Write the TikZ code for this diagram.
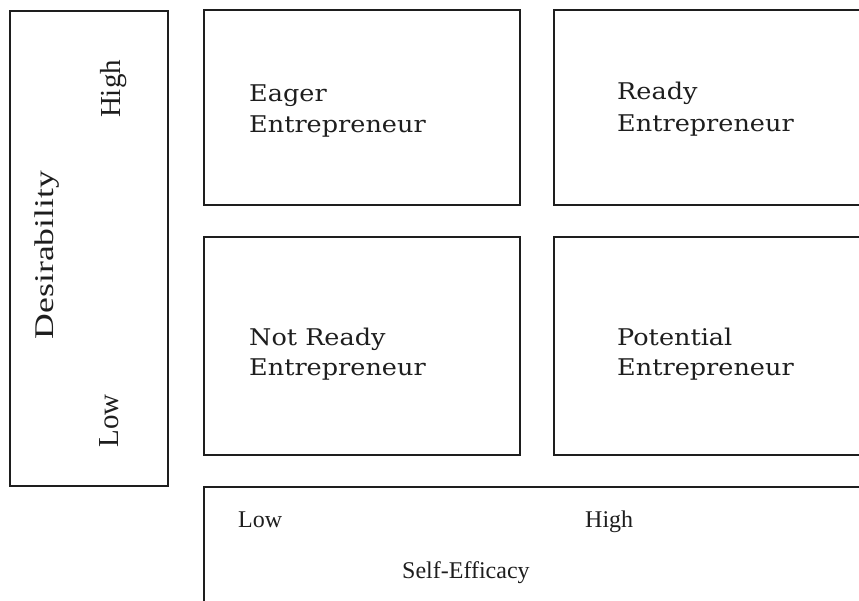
\documentclass[tikz,border=0pt]{standalone}
\usepackage{fontspec}
\usepackage{tikz}
\usetikzlibrary{positioning}
\newfontfamily\boxfont[FakeStretch=1.11]{DejaVu Serif}
\newfontfamily\axisfont{Liberation Serif}
\definecolor{ink}{HTML}{1E1E1E}

\begin{document}
\begin{tikzpicture}
      [
        x=1pt, y=-1pt,
        panel/.style={rectangle, draw=ink, line width=2.3pt, anchor=north west, outer sep=0pt, inner sep=0pt},
        quadtext/.style={anchor=base west, inner sep=0pt, text=ink, font=\boxfont\fontsize{23}{27}\selectfont},
        axistext/.style={anchor=base west, inner sep=0pt, text=ink, font=\axisfont\fontsize{24}{28}\selectfont},
        sidetext/.style={anchor=base, rotate=90, inner sep=0pt, text=ink, font=\axisfont\fontsize{29}{34}\selectfont}
      ]
      \useasboundingbox (0,0) rectangle (859,601);
      \clip (0,0) rectangle (859,601);
      % boxes
      \node[panel, minimum width=158pt, minimum height=475pt] (side) at (10,11) {};
      \node[panel, minimum width=316pt, minimum height=195pt] (eager) at (204,10) {};
      \node[panel, minimum width=346pt, minimum height=195pt] (ready) at (554,10) {};
      \node[panel, minimum width=316pt, minimum height=218pt] (notready) at (204,237) {};
      \node[panel, minimum width=346pt, minimum height=218pt] (potential) at (554,237) {};
      \node[panel, minimum width=696pt, minimum height=160pt] (axis) at (204,487) {};
      % quadrant labels
      \node[quadtext] (eager1) at (249,102) {Eager};
      \node[quadtext] (eager2) at (249,133) {Entrepreneur};
      \node[quadtext] (ready1) at (617,100) {Ready};
      \node[quadtext] (ready2) at (617,132) {Entrepreneur};
      \node[quadtext] (notready1) at (249,345) {Not Ready};
      \node[quadtext] (notready2) at (249,375) {Entrepreneur};
      \node[quadtext] (potential1) at (617,345) {Potential};
      \node[quadtext] (potential2) at (617,375) {Entrepreneur};
      % self-efficacy axis
      \node[axistext] (xlow) at (238,527) {Low};
      \node[axistext] (xhigh) at (585,527) {High};
      \node[axistext] (xname) at (402,578) {Self-Efficacy};
      % desirability axis
      \node[sidetext] (yhigh) at (120,89) {High};
      \node[sidetext] (ylow) at (118,421) {Low};
      \node[sidetext, font=\axisfont\fontsize{27}{32}\selectfont] (yname) at (53,255) {\scalebox{1.32}[1]{Desirability}};
    \end{tikzpicture}
\end{document}
